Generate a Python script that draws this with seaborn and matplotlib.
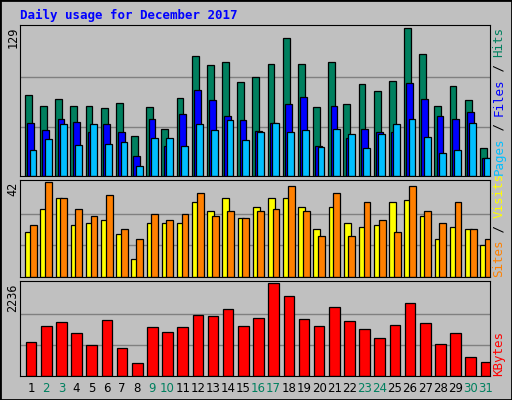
import matplotlib
matplotlib.use("Agg")
import matplotlib.pyplot as plt
import seaborn as sns
import numpy as np

sns.set_style("white")
plt.rcParams['font.family'] = ['DejaVu Sans Mono']

days = [str(d) for d in range(1, 32)]
weekend = {2, 3, 9, 10, 16, 17, 23, 24, 30, 31}
hits = [71,61,67,61,61,59,64,35,60,41,68,105,97,99,82,86,98,120,98,60,99,63,80,74,83,129,106,61,78,66,24]
files = [46,40,50,47,38,45,38,17,50,26,54,75,66,52,49,39,46,63,69,26,61,33,41,38,38,81,67,52,50,56,16]
pages = [23,32,45,27,45,28,30,9,33,33,26,45,40,49,31,38,46,38,40,25,41,37,24,37,45,50,34,20,23,46,16]
sites = [20,30,35,23,24,25,19,8,24,24,24,33,29,35,26,31,35,35,31,21,31,24,22,23,33,34,27,17,22,21,14]
visits = [23,42,35,30,27,36,21,17,28,25,28,37,27,29,26,29,30,40,29,18,37,18,33,25,20,40,29,24,33,21,17]
kbytes = [811,1204,1302,1032,737,1351,663,319,1179,1056,1179,1474,1450,1597,1204,1400,2236,1916,1376,1204,1646,1327,1130,909,1228,1744,1278,762,1032,467,344]

W, H = 512, 400
bg = "#C0C0C0"
fig = plt.figure(figsize=(W/100, H/100), dpi=100, facecolor=bg)

def ax_at(x0, y0, x1, y1):
    return fig.add_axes([x0/W, 1-y1/H, (x1-x0)/W, (y1-y0)/H])

x = np.arange(31)
panels = [
    (25, 176, 129, [(hits, 0.05, "#00805F"), (files, 0.2, "#0000FF"), (pages, 0.35, "#00BFFF")], 0.45),
    (180, 277, 42, [(sites, 0.07, "#FFFF00"), (visits, 0.38, "#FF8000")], 0.45),
    (281, 376, 2236, [(kbytes, 0.1, "#FF0000")], 0.7),
]
axes = []
for (y0, y1, mx, series, w) in panels:
    ax = ax_at(20, y0, 490, y1)
    ax.set_facecolor(bg)
    for v in (mx/3, 2*mx/3):
        ax.axhline(v, color="#808080", lw=1, zorder=0)
    for vals, off, col in series:
        ax.bar(x + off, vals, width=w, align="edge", color=col, edgecolor="black", linewidth=0.9, zorder=2)
    ax.set_xlim(-0.28, 30.72)
    ax.set_ylim(0, mx * 1.02)
    ax.set_xticks([]); ax.set_yticks([])
    for s in ax.spines.values():
        s.set_color("black"); s.set_linewidth(0.8)
    fig.text(13/W, 1-(y0+2)/H, str(mx), rotation=90, ha="center", va="top", fontsize=8.5, color="black")
    axes.append(ax)

# x labels
for i, d in enumerate(days):
    xp = axes[2].transData.transform((i + 0.45, 0))[0]
    fig.text(xp/W, 1-389/H, d, ha="center", va="center", fontsize=8.5,
             color="#00805F" if (i+1) in weekend else "black", family="DejaVu Sans")

# right labels
def side_label(parts, ybottom):
    cy = ybottom
    step = 7.4
    for txt, col in parts:
        fig.text(499/W, 1-cy/H, txt, rotation=90, ha="center", va="bottom", fontsize=9, color=col)
        cy -= step * len(txt)

side_label([("Pages", "#00BFFF"), (" / ", "#000000"), ("Files", "#0000FF"), (" / ", "#000000"), ("Hits", "#00805F")], 175)
side_label([("Sites", "#FF8000"), (" / ", "#000000"), ("Visits", "#FFFF00")], 277)
side_label([("KBytes", "#FF0000")], 376)

fig.text(20/W, 1-15/H, "Daily usage for December 2017", ha="left", va="center",
         fontsize=9, fontweight="bold", color="#0000FF")

fig.patches.append(plt.Rectangle((0, 0), 1, 1, transform=fig.transFigure, fill=False,
                                 edgecolor="black", linewidth=2))
fig.savefig("out.png", dpi=100, facecolor=bg)
